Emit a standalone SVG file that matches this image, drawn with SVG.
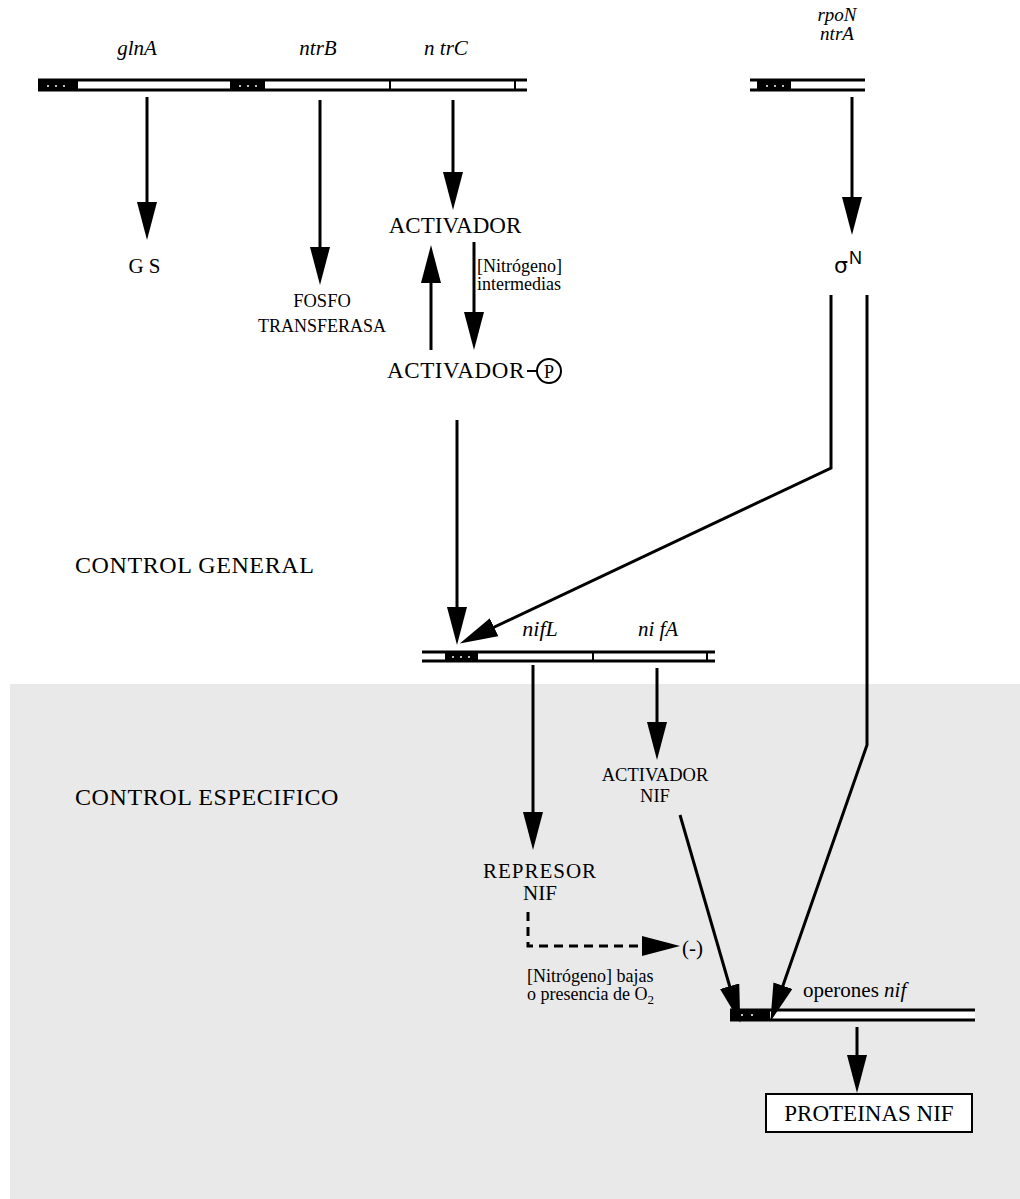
<svg xmlns="http://www.w3.org/2000/svg" width="1020" height="1199" viewBox="0 0 1020 1199">
<defs>
<style>
.lbl{font-family:"Liberation Serif","Times New Roman",serif;font-size:21px;fill:#000}
.gene{font-family:"Liberation Serif","Times New Roman",serif;font-size:21px;font-style:italic;fill:#000}
.small{font-family:"Liberation Serif","Times New Roman",serif;font-size:18px;fill:#000}
.ctl{font-family:"Liberation Serif","Times New Roman",serif;font-size:24px;letter-spacing:0.6px;fill:#000}
.strand{stroke:#000;stroke-width:3;fill:none}
.tick{stroke:#000;stroke-width:2}
.prom{fill:#000}
.dot{fill:#fff}
.arr{stroke:#000;stroke-width:3;fill:none;marker-end:url(#ah)}
.dash{stroke:#000;stroke-width:3;fill:none;stroke-dasharray:9 6;marker-end:url(#ah)}
</style>
<marker id="ah" viewBox="0 0 38 20" refX="30" refY="10" markerWidth="38" markerHeight="20" markerUnits="userSpaceOnUse" orient="auto">
<path d="M0,0 L38,10 L0,20 z" fill="#000"/>
</marker>
</defs>
<rect width="1020" height="1199" fill="#fff"/>
<rect id="shade" x="10" y="684" width="1010" height="515" fill="#e9e9e9"/>

<g id="gene-bar-top">
<rect x="38" y="80" width="489" height="10" fill="#fff"/>
<line class="strand" x1="38" y1="80" x2="527" y2="80"/>
<line class="strand" x1="38" y1="90" x2="527" y2="90"/>
<rect class="prom" x="38" y="79" width="40" height="12"/>
<circle class="dot" cx="48" cy="86" r="1"/><circle class="dot" cx="56" cy="86" r="1"/><circle class="dot" cx="64" cy="86" r="1"/>
<rect class="prom" x="230" y="79" width="35" height="12"/>
<circle class="dot" cx="240" cy="86" r="1"/><circle class="dot" cx="248" cy="86" r="1"/><circle class="dot" cx="256" cy="86" r="1"/>
<line class="tick" x1="390" y1="80" x2="390" y2="90"/>
<line class="tick" x1="515" y1="80" x2="515" y2="90"/>
<text class="gene" x="137" y="55" text-anchor="middle">glnA</text>
<text class="gene" x="318" y="55" text-anchor="middle">ntrB</text>
<text class="gene" x="446" y="55" text-anchor="middle">n trC</text>
</g>

<g id="gene-bar-rpoN">
<rect x="750" y="80" width="115" height="10" fill="#fff"/>
<line class="strand" x1="750" y1="80" x2="865" y2="80"/>
<line class="strand" x1="750" y1="90" x2="865" y2="90"/>
<rect class="prom" x="757" y="79" width="34" height="12"/>
<circle class="dot" cx="767" cy="86" r="1"/><circle class="dot" cx="775" cy="86" r="1"/><circle class="dot" cx="783" cy="86" r="1"/>
<text class="gene" x="837" y="21" text-anchor="middle" style="font-size:19px">rpoN</text>
<text class="gene" x="837" y="40" text-anchor="middle" style="font-size:19px">ntrA</text>
</g>

<g id="node-GS"><text class="lbl" x="147" y="273" text-anchor="middle" letter-spacing="5">GS</text></g>
<g id="node-fosfo">
<text class="lbl" x="322" y="307" text-anchor="middle" style="font-size:18.5px">FOSFO</text>
<text class="lbl" x="322" y="332" text-anchor="middle" style="font-size:18px">TRANSFERASA</text>
</g>
<g id="node-activador"><text class="lbl" x="455" y="233" text-anchor="middle" style="font-size:23px">ACTIVADOR</text></g>
<g id="node-activador-p">
<text class="lbl" x="387" y="378" style="font-size:23px" letter-spacing="0.6">ACTIVADOR</text>
<line x1="527" y1="371" x2="537" y2="371" stroke="#000" stroke-width="2"/>
<circle cx="549" cy="371" r="12" fill="none" stroke="#000" stroke-width="2"/>
<text class="lbl" x="549" y="378" text-anchor="middle" style="font-size:18px">P</text>
</g>
<g id="node-sigma">
<text x="834" y="273" font-family="'DejaVu Sans',sans-serif" font-size="22">σ</text>
<text x="849" y="264" font-family="'Liberation Sans',sans-serif" font-size="18">N</text>
</g>
<g id="label-nitro-int">
<text class="small" x="477" y="272">[Nitrógeno]</text>
<text class="small" x="477" y="290">intermedias</text>
</g>

<g id="label-control-general"><text class="ctl" x="75" y="573">CONTROL GENERAL</text></g>
<g id="label-control-especifico"><text class="ctl" x="75" y="805">CONTROL ESPECIFICO</text></g>

<g id="gene-bar-nif">
<rect x="422" y="652" width="293" height="9" fill="#fff"/>
<line class="strand" x1="422" y1="652" x2="715" y2="652"/>
<line class="strand" x1="422" y1="661" x2="715" y2="661"/>
<rect class="prom" x="445" y="651" width="33" height="11"/>
<circle class="dot" cx="453" cy="657" r="1"/><circle class="dot" cx="461" cy="657" r="1"/><circle class="dot" cx="469" cy="657" r="1"/>
<line class="tick" x1="593" y1="652" x2="593" y2="661"/>
<line class="tick" x1="707" y1="652" x2="707" y2="661"/>
<text class="gene" x="540" y="636" text-anchor="middle" style="font-size:22px">nifL</text>
<text class="gene" x="658" y="636" text-anchor="middle">ni fA</text>
</g>

<g id="node-activador-nif">
<text class="lbl" x="655" y="781" text-anchor="middle" style="font-size:18.5px">ACTIVADOR</text>
<text class="lbl" x="655" y="802" text-anchor="middle" style="font-size:18.5px">NIF</text>
</g>
<g id="node-represor-nif">
<text class="lbl" x="540" y="878" text-anchor="middle" letter-spacing="1">REPRESOR</text>
<text class="lbl" x="540" y="900" text-anchor="middle">NIF</text>
</g>
<g id="node-minus"><text class="lbl" x="682" y="955">(-)</text></g>
<g id="label-nitro-bajas">
<text class="small" x="527" y="982">[Nitrógeno]  bajas</text>
<text class="small" x="527" y="1000">o presencia de O<tspan style="font-size:13px" dy="4">2</tspan></text>
</g>

<g id="gene-bar-operon">
<rect x="730" y="1010" width="245" height="10" fill="#fff"/>
<line class="strand" x1="730" y1="1010" x2="975" y2="1010"/>
<line class="strand" x1="730" y1="1020" x2="975" y2="1020"/>
<rect class="prom" x="730" y="1009" width="40" height="12"/>
<circle class="dot" cx="742" cy="1015" r="1"/><circle class="dot" cx="752" cy="1015" r="1"/>
<text class="lbl" x="803" y="997" style="font-size:21px">operones <tspan font-style="italic">nif</tspan></text>
</g>

<g id="node-proteinas">
<rect x="766" y="1094" width="206" height="38" fill="#fff" stroke="#000" stroke-width="2"/>
<text class="lbl" x="869" y="1121" text-anchor="middle" style="font-size:23px">PROTEINAS NIF</text>
</g>

<g id="connectors">
<line class="arr" x1="147" y1="97" x2="147" y2="232"/>
<line class="arr" x1="320" y1="100" x2="320" y2="277"/>
<line class="arr" x1="453" y1="100" x2="453" y2="202"/>
<line class="arr" x1="431" y1="350" x2="431" y2="253"/>
<line class="arr" x1="474" y1="242" x2="474" y2="342"/>
<line class="arr" x1="852" y1="97" x2="852" y2="227"/>
<line class="arr" x1="457" y1="420" x2="457" y2="637"/>
<polyline class="arr" points="831,295 831,468 467,640"/>
<polyline class="arr" points="867,295 867,745 773,1014"/>
<line class="arr" x1="533" y1="665" x2="533" y2="842"/>
<line class="arr" x1="657" y1="668" x2="657" y2="752"/>
<line class="arr" x1="680" y1="815" x2="738" y2="1015"/>
<polyline class="dash" points="528,912 528,946 672,946"/>
<line class="arr" x1="857" y1="1027" x2="857" y2="1085"/>
</g>
</svg>
